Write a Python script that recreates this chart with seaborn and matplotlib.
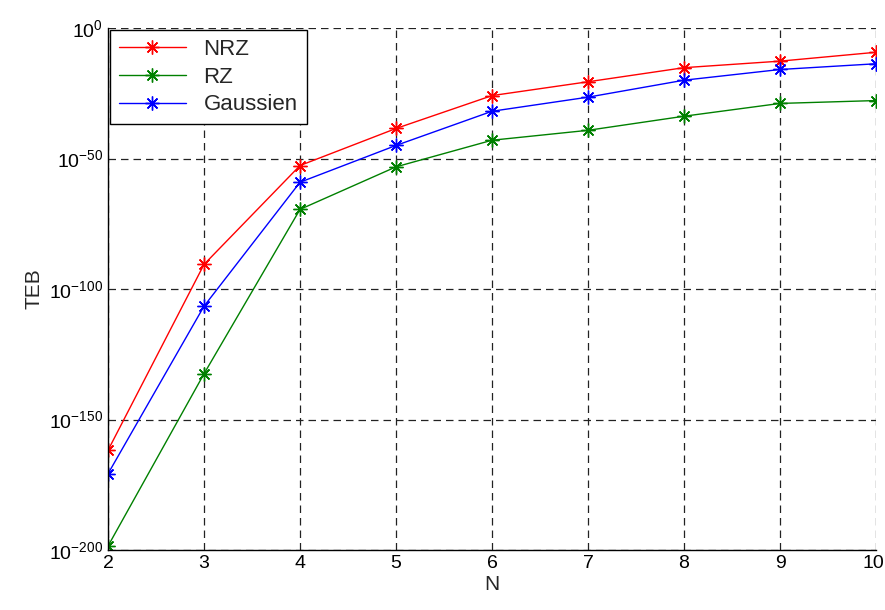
import numpy as np
import pandas as pd
import seaborn as sns
import matplotlib.pyplot as plt
import matplotlib.transforms as mtransforms
from matplotlib.ticker import FixedLocator, FuncFormatter

# Valores (exponentes de 10)
n_vals = [2, 3, 4, 5, 6, 7, 8, 9, 10]
exp_nrz = [-161.8, -90.6, -52.7, -38.5, -25.9, -20.6, -15.2, -12.7, -9.3]
exp_rz = [-198.5, -132.5, -69.5, -53.2, -43.0, -39.2, -33.8, -28.9, -27.8]
exp_gauss = [-170.8, -106.6, -59.1, -45.0, -31.9, -26.5, -20.0, -15.9, -13.7]
series = ["NRZ", "RZ", "Gaussien"]
colores = ["#ff0000", "#008000", "#0000ff"]
y_ticks = [-200, -150, -100, -50, 0]

sns.set_style("white")
plt.rcParams["font.family"] = ["Liberation Sans", "DejaVu Sans"]
plt.rcParams["mathtext.fontset"] = "custom"
plt.rcParams["mathtext.rm"] = "Liberation Sans"
plt.rcParams["mathtext.it"] = "Liberation Sans"

fig = plt.figure(figsize=(8.85, 6.1), dpi=100)
ax = fig.add_axes([108 / 885, 60 / 610, 768 / 885, 522 / 610])

# una linea por serie, asi el marcador (asterisco) toma el color de la linea
for s, e, c in zip(series, [exp_nrz, exp_rz, exp_gauss], colores):
    d = pd.DataFrame({"N": n_vals, "TEB": 10.0 ** np.array(e)})
    sns.lineplot(data=d, x="N", y="TEB", color=c, label=s,
                 marker=(8, 2, 0), markersize=10, markeredgewidth=1,
                 markeredgecolor=c, linewidth=1, ax=ax)

ax.set_yscale("log")
ax.set_xlim(2, 10)
ax.set_ylim(1e-200, 1e0)
ax.yaxis.set_major_locator(FixedLocator([10.0 ** e for e in y_ticks]))
ax.yaxis.set_minor_locator(FixedLocator([]))
ax.yaxis.set_major_formatter(FuncFormatter(
    lambda v, p: "$10^{%d}$" % round(np.log10(v))))
ax.set_xticks(n_vals)

ax.grid(True, color="#222222", linestyle=(0, (6, 4)), linewidth=0.9)
for s in ["top", "right"]:
    ax.spines[s].set_visible(False)
for s in ["left", "bottom"]:
    ax.spines[s].set_color("black")
    ax.spines[s].set_linewidth(1)
ax.tick_params(direction="in", length=6, width=1, labelsize=14, colors="black")

# el "10" del eje x queda pegado al borde: lo corremos un poco a la izquierda
ultimo = ax.get_xticklabels()[-1]
ultimo.set_transform(ultimo.get_transform() +
                     mtransforms.ScaledTranslation(-3 / 100, 0, fig.dpi_scale_trans))

ax.set_xlabel("N", fontsize=15, labelpad=2)
ax.set_ylabel("TEB", fontsize=15)

leg = ax.legend(loc="upper left", fontsize=16, frameon=True, fancybox=False,
                borderaxespad=0.1, handlelength=3, labelspacing=0.3)
leg.get_frame().set_edgecolor("black")
leg.get_frame().set_linewidth(1)
leg.get_frame().set_alpha(1)

plt.savefig("out.png", dpi=100)
